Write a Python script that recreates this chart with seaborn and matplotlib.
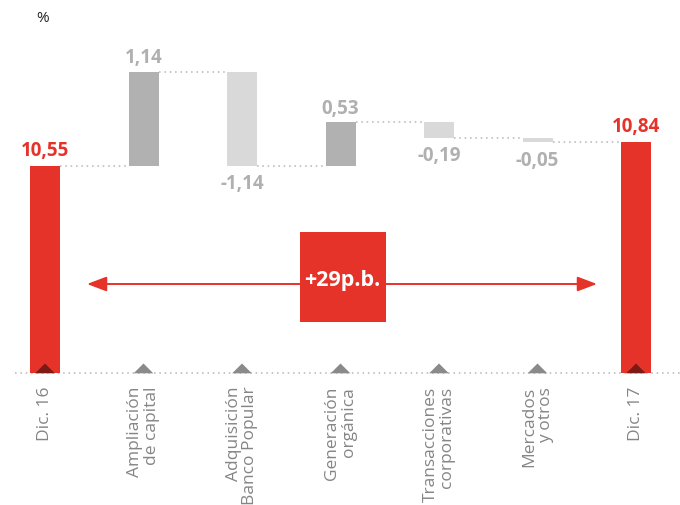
import numpy as np
import pandas as pd
import matplotlib
matplotlib.use("Agg")
import matplotlib.pyplot as plt
from matplotlib.patches import Rectangle
import seaborn as sns

# ---------------- data ----------------
categories = ["Dic. 16", "Ampliación\nde capital", "Adquisición\nBanco Popular",
              "Generación\norgánica", "Transacciones\ncorporativas",
              "Mercados\ny otros", "Dic. 17"]
values = [10.55, 1.14, -1.14, 0.53, -0.19, -0.05, 10.84]
kinds = ["total", "pos", "neg", "pos", "neg", "neg", "total"]
value_labels = ["10,55", "1,14", "-1,14", "0,53", "-0,19", "-0,05", "10,84"]
unit_label = "%"
delta_label = "+29p.b."

# ---------------- style ----------------
sns.set_style("white")
plt.rcParams["font.family"] = ["Open Sans", "DejaVu Sans"]

RED = "#e63329"
DARK_RED = "#7a1b16"
GRAY_POS = "#b1b1b1"
GRAY_NEG = "#d9d9d9"
LABEL_GRAY = "#b0b0b0"
CAT_GRAY = "#858585"
TRI_GRAY = "#8a8a8a"
DOT = "#b5b5b5"

bar_color = {"total": RED, "pos": GRAY_POS, "neg": GRAY_NEG}
text_color = {"total": RED, "pos": LABEL_GRAY, "neg": LABEL_GRAY}

# waterfall geometry from data
bottoms, tops, levels = [], [], []
running = 0.0
for v, k in zip(values, kinds):
    if k == "total":
        bottoms.append(0.0)
        tops.append(v)
        running = v
    else:
        start, end = running, running + v
        bottoms.append(min(start, end))
        tops.append(max(start, end))
        running = end
    levels.append(running)

# ---------------- figure ----------------
W, H = 680, 506
fig = plt.figure(figsize=(W / 100, H / 100), dpi=100)
base_px = 374.3
ax = fig.add_axes([0, (H - base_px) / H, 1, base_px / H])

n = len(categories)
step_px = 98.5
x0_px = 45
bar_w = 30 / step_px
px_per_unit = 82.6
y_floor = values[0] - (base_px - 166.7) / px_per_unit
y_top = values[0] + 166.7 / px_per_unit

df = pd.DataFrame({"cat": categories, "top": tops})
sns.barplot(data=df, x="cat", y="top", hue="cat", order=categories,
            hue_order=categories, palette=[bar_color[k] for k in kinds],
            width=bar_w, saturation=1, legend=False, errorbar=None, ax=ax,
            zorder=2)
for p, b, t in zip(ax.patches, bottoms, tops):
    p.set_y(b)
    p.set_height(t - b)
    p.set_linewidth(0)

ax.set_xlim(-x0_px / step_px, (W - x0_px) / step_px)
ax.set_ylim(y_floor, y_top)

# dotted connectors
pos = np.arange(n)
ax.hlines(levels[:-1], pos[:-1] + bar_w / 2, pos[1:] - bar_w / 2,
          colors=DOT, linestyles=(0, (1, 2.5)), linewidth=1.1, zorder=1)
# dotted baseline
ax.hlines([y_floor], -0.3, (W - x0_px) / step_px, colors=DOT,
          linestyles=(0, (1, 2.5)), linewidth=1.1, zorder=1, clip_on=False)

# triangles
tri = [(-1, 0), (1, 0), (0, 1), (-1, 0)]
tri_df = pd.DataFrame({"x": pos, "y": [y_floor] * n,
                       "k": ["t" if k == "total" else "o" for k in kinds]})
sns.scatterplot(data=tri_df, x="x", y="y", hue="k",
                palette={"t": DARK_RED, "o": TRI_GRAY}, marker=tri, s=200,
                linewidth=0, legend=False, ax=ax, zorder=4, clip_on=False)

# value labels
for i, (lab, k) in enumerate(zip(value_labels, kinds)):
    if k == "total":
        ax.annotate(lab, xy=(i, tops[i]), xytext=(0, 7.7), textcoords="offset points",
                    ha="center", va="baseline", fontsize=13.5, fontweight="bold",
                    color=text_color[k])
    elif k == "pos":
        ax.annotate(lab, xy=(i, tops[i]), xytext=(0, 6.7), textcoords="offset points",
                    ha="center", va="baseline", fontsize=13.5, fontweight="bold",
                    color=text_color[k])
    else:
        ax.annotate(lab, xy=(i, bottoms[i]), xytext=(0, -16.4), textcoords="offset points",
                    ha="center", va="baseline", fontsize=13.5, fontweight="bold",
                    color=text_color[k])

# axis styling
for s in ax.spines.values():
    s.set_visible(False)
ax.set_xlabel("")
ax.set_ylabel("")
ax.set_yticks([])
ax.set_xticks(pos)
ax.set_xticklabels(categories)
ax.tick_params(axis="x", length=0, pad=9, labelsize=12.5, labelcolor=CAT_GRAY)
for lbl in ax.get_xticklabels():
    lbl.set_rotation(90)
    lbl.set_ha("center")
    lbl.set_va("top")
    lbl.set_multialignment("right")
    lbl.set_linespacing(1.08)

# arrow and box
ax.annotate("", xy=(87 / W, (base_px - 285) / base_px),
            xytext=(597 / W, (base_px - 285) / base_px),
            xycoords="axes fraction", textcoords="axes fraction",
            arrowprops=dict(arrowstyle="<|-|>,head_length=0.85,head_width=0.32",
                            color=RED, lw=1.4, shrinkA=0, shrinkB=0,
                            mutation_scale=14), zorder=3)
ax.add_patch(Rectangle((300 / W, (base_px - 323) / base_px), 86 / W, 90 / base_px,
                       transform=ax.transAxes, facecolor=RED, edgecolor="none",
                       zorder=5))
ax.text(342 / W, (base_px - 281) / base_px, delta_label, transform=ax.transAxes,
        ha="center", va="center", fontsize=15.5, fontweight="bold",
        color="white", zorder=6)

fig.text(43 / W, 1 - 18 / H, unit_label, ha="center", va="center",
         fontsize=11, color="#222222")

fig.savefig("out.png", dpi=100)
